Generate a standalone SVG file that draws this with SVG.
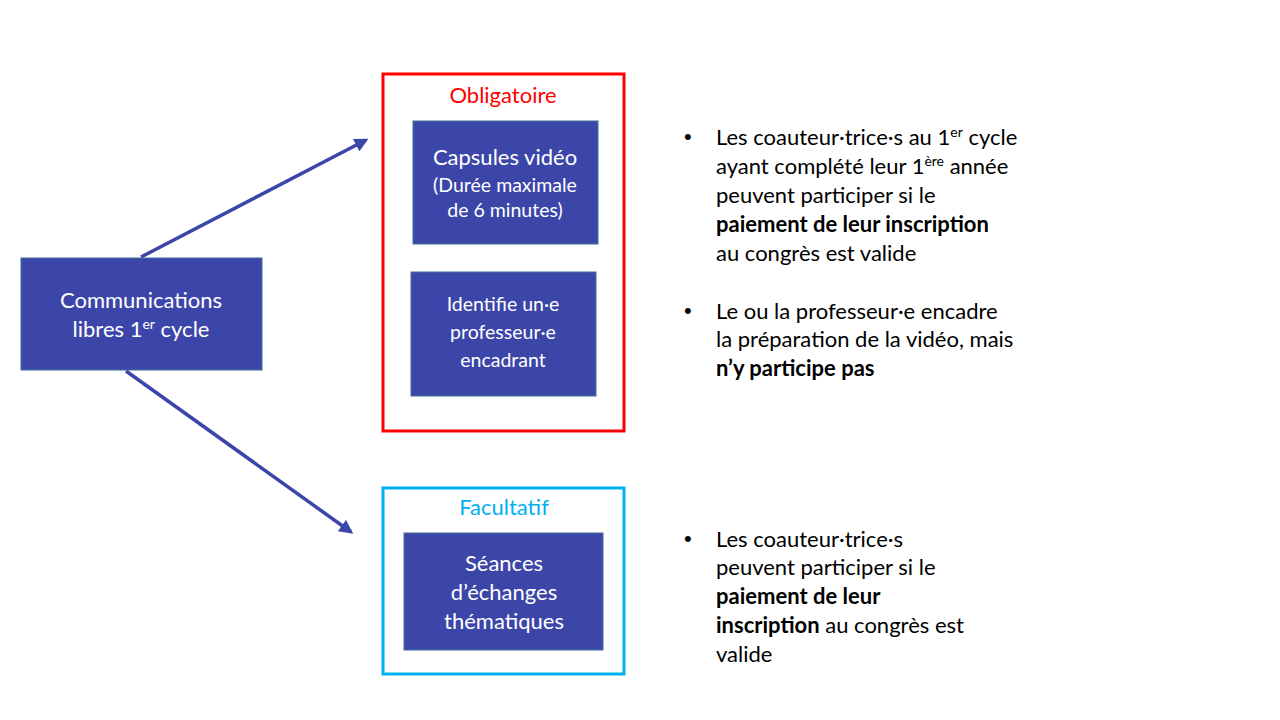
<svg xmlns="http://www.w3.org/2000/svg" width="1280" height="720" viewBox="0 0 1280 720">
<style>
.node{fill:#3C46A9;stroke:#41719C;stroke-width:1}
.wt{fill:#FFFFFF;font-family:Lato,"Liberation Sans",sans-serif;text-anchor:middle}
.bt{fill:#000000;font-family:Lato,"Liberation Sans",sans-serif;font-size:22px}
.dot{fill:#000000;font-family:"Liberation Sans",sans-serif;font-size:22px}
.b{font-weight:bold}
.conn{stroke:#3C46A9;stroke-width:3.5;fill:none}
</style>
<defs>
<marker id="ah" viewBox="0 0 10 10" refX="8" refY="5" markerWidth="4" markerHeight="4" orient="auto" markerUnits="strokeWidth">
<path d="M0,0 L10,5 L0,10 z" fill="#3C46A9"/>
</marker>
</defs>
<rect width="1280" height="720" fill="#FFFFFF"/>
<g id="connectors">
<line class="conn" x1="141" y1="257" x2="366" y2="140" marker-end="url(#ah)"/>
<line class="conn" x1="126" y1="371" x2="351" y2="532" marker-end="url(#ah)"/>
</g>
<g id="main">
<rect class="node" x="21" y="258" width="241" height="112"/>
<text class="wt" font-size="22" x="141" y="308">Communications</text>
<text class="wt" font-size="22" x="141" y="337">libres 1<tspan dy="-8" font-size="14">er</tspan><tspan dy="8"> cycle</tspan></text>
</g>
<g id="obligatoire">
<rect x="383" y="74" width="241" height="357" fill="none" stroke="#FF0000" stroke-width="3"/>
<text x="503" y="103" font-family="Lato,'Liberation Sans',sans-serif" font-size="22" fill="#FF0000" text-anchor="middle">Obligatoire</text>
</g>
<g id="capsules">
<rect class="node" x="413" y="121" width="185" height="123"/>
<text class="wt" font-size="22" x="505" y="165">Capsules vidéo</text>
<text class="wt" font-size="19.5" x="505" y="192">(Durée maximale</text>
<text class="wt" font-size="19.5" x="505" y="217">de 6 minutes)</text>
</g>
<g id="identifie">
<rect class="node" x="411" y="272" width="185" height="124"/>
<text class="wt" font-size="19.5" x="503" y="311">Identifie un·e</text>
<text class="wt" font-size="19.5" x="503" y="339">professeur·e</text>
<text class="wt" font-size="19.5" x="503" y="367">encadrant</text>
</g>
<g id="facultatif">
<rect x="383" y="488" width="241" height="186" fill="none" stroke="#00B0F0" stroke-width="3"/>
<text x="504" y="515" font-family="Lato,'Liberation Sans',sans-serif" font-size="22" fill="#00B0F0" text-anchor="middle">Facultatif</text>
</g>
<g id="seances">
<rect class="node" x="404" y="533" width="199" height="117"/>
<text class="wt" font-size="22" x="504" y="571">Séances</text>
<text class="wt" font-size="22" x="504" y="600">d’échanges</text>
<text class="wt" font-size="22" x="504" y="629">thématiques</text>
</g>
<g id="notes1">
<text class="dot" x="684" y="144">•</text>
<text class="bt" x="716" y="145">Les coauteur·trice·s au 1<tspan dy="-8" font-size="14">er</tspan><tspan dy="8"> cycle</tspan></text>
<text class="bt" x="716" y="174">ayant complété leur 1<tspan dy="-8" font-size="14">ère</tspan><tspan dy="8"> année</tspan></text>
<text class="bt" x="716" y="203">peuvent participer si le</text>
<text class="bt b" x="716" y="232">paiement de leur inscription</text>
<text class="bt" x="716" y="261">au congrès est valide</text>
<text class="dot" x="684" y="318">•</text>
<text class="bt" x="716" y="319">Le ou la professeur·e encadre</text>
<text class="bt" x="716" y="347">la préparation de la vidéo, mais</text>
<text class="bt b" x="716" y="376">n’y participe pas</text>
</g>
<g id="notes2">
<text class="dot" x="684" y="546">•</text>
<text class="bt" x="716" y="547">Les coauteur·trice·s</text>
<text class="bt" x="716" y="575">peuvent participer si le</text>
<text class="bt b" x="716" y="604">paiement de leur</text>
<text class="bt" x="716" y="633"><tspan class="b">inscription</tspan> au congrès est</text>
<text class="bt" x="716" y="662">valide</text>
</g>
</svg>
